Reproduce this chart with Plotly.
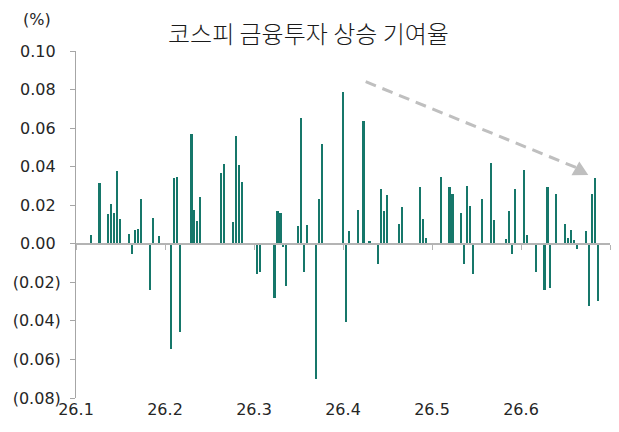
import pandas as pd
import plotly.graph_objects as go

# ---- data ----
dates = [
    "2026-01-06", "2026-01-09", "2026-01-12", "2026-01-13", "2026-01-14", "2026-01-15", "2026-01-16",
    "2026-01-19", "2026-01-20", "2026-01-21", "2026-01-22", "2026-01-23", "2026-01-26", "2026-01-27",
    "2026-01-29",
    "2026-02-02", "2026-02-03", "2026-02-04", "2026-02-05", "2026-02-09", "2026-02-10", "2026-02-11",
    "2026-02-12", "2026-02-19", "2026-02-20", "2026-02-23", "2026-02-24", "2026-02-25", "2026-02-26",
    "2026-03-03", "2026-03-04", "2026-03-09", "2026-03-10", "2026-03-11", "2026-03-12", "2026-03-13",
    "2026-03-17", "2026-03-18", "2026-03-19", "2026-03-20", "2026-03-23", "2026-03-24", "2026-03-25",
    "2026-04-01", "2026-04-02", "2026-04-03", "2026-04-06", "2026-04-08", "2026-04-10", "2026-04-13",
    "2026-04-14", "2026-04-15", "2026-04-16", "2026-04-20", "2026-04-21", "2026-04-23", "2026-04-27",
    "2026-04-28", "2026-04-29",
    "2026-05-04", "2026-05-07", "2026-05-08", "2026-05-11", "2026-05-12", "2026-05-13", "2026-05-14",
    "2026-05-15", "2026-05-18", "2026-05-21", "2026-05-22", "2026-05-26", "2026-05-27", "2026-05-28",
    "2026-05-29",
    "2026-06-01", "2026-06-02", "2026-06-05", "2026-06-08", "2026-06-09", "2026-06-10", "2026-06-12",
    "2026-06-15", "2026-06-16", "2026-06-17", "2026-06-18", "2026-06-19", "2026-06-22", "2026-06-23",
    "2026-06-24", "2026-06-25", "2026-06-26",
]
values = [
    0.0045, 0.0314, 0.0154, 0.0206, 0.0159, 0.0378, 0.0131,
    0.0052, -0.0054, 0.0074, 0.0079, 0.0230, -0.0240, 0.0136,
    0.0038,
    -0.0547, 0.0342, 0.0347, -0.0456, 0.0570, 0.0174, 0.0119,
    0.0244, 0.0366, 0.0415, 0.0114, 0.0558, 0.0409, 0.0323,
    -0.0157, -0.0145, -0.0280, 0.0169, 0.0162, -0.0017, -0.0218,
    0.0093, 0.0655, -0.0145, 0.0098, -0.0701, 0.0230, 0.0516,
    0.0786, -0.0404, 0.0064, 0.0173, 0.0639, 0.0017, -0.0105,
    0.0283, 0.0168, 0.0252, 0.0105, 0.0192, 0.0004, 0.0294,
    0.0128, 0.0029,
    0.0347, 0.0295, 0.0256, 0.0159, -0.0104, 0.0302, 0.0197,
    -0.0159, 0.0233, 0.0421, 0.0124, 0.0024, 0.0169, -0.0055,
    0.0283,
    0.0385, 0.0047, -0.0145, -0.0242, 0.0292, -0.0231, 0.0256,
    0.0104, 0.0029, 0.0074, 0.0021, -0.0028, 0.0066, -0.0321,
    0.0259, 0.0339, -0.0299,
]
x_tick_labels = ["26.1", "26.2", "26.3", "26.4", "26.5", "26.6", ""]
y_tick_values = [0.10, 0.08, 0.06, 0.04, 0.02, 0.00, -0.02, -0.04, -0.06, -0.08]
y_tick_labels = ["0.10\u00a0", "0.08\u00a0", "0.06\u00a0", "0.04\u00a0", "0.02\u00a0", "0.00\u00a0",
                 "(0.02)", "(0.04)", "(0.06)", "(0.08)"]
title_text = "코스피 금융투자 상승 기여율"
unit_text = "(%)"

x_start, x_end = "2026-01-01", "2026-06-30"
x_tick_values = [d.strftime("%Y-%m-%d") for d in pd.date_range(x_start, periods=7, freq="30D")]

KFONT = "Noto Sans CJK KR"
NFONT = "DejaVu Sans"
BAR = "#16776a"
AXIS = "#a6a6a6"
TXT = "#262626"

fig = go.Figure()
fig.add_trace(go.Bar(
    x=dates, y=values, marker=dict(color=BAR, line=dict(width=0)),
    width=0.55 * 86400000, showlegend=False, hoverinfo="x+y",
))
# invisible trace to carry the zero-line axis
fig.add_trace(go.Scatter(
    x=[x_start], y=[0], xaxis="x2", mode="markers", marker=dict(opacity=0),
    showlegend=False, hoverinfo="skip",
))

ymin, ymax = -0.08, 0.10
zero_pos = (0 - ymin) / (ymax - ymin)

fig.update_layout(
    width=619, height=432,
    margin=dict(l=76, r=9, t=51, b=34),
    paper_bgcolor="white", plot_bgcolor="white",
    font=dict(family=NFONT, color=TXT, size=16),
    bargap=0,
    xaxis=dict(
        type="date", range=[x_start, x_end],
        tickmode="array", tickvals=x_tick_values, ticktext=x_tick_labels,
        showline=False, ticks="", showgrid=False, zeroline=False,
        tickfont=dict(family=NFONT, size=16, color=TXT),
    ),
    xaxis2=dict(
        type="date", range=[x_start, x_end], overlaying="x", anchor="free",
        position=zero_pos, side="bottom",
        tickmode="array", tickvals=x_tick_values, showticklabels=False,
        showline=True, linecolor="#b4b4b4", linewidth=1.5,
        ticks="outside", ticklen=5, tickcolor="#b4b4b4", tickwidth=1,
        showgrid=False, zeroline=False,
    ),
    yaxis=dict(
        range=[ymin, ymax], tickmode="array",
        tickvals=y_tick_values, ticktext=y_tick_labels,
        showline=True, linecolor=AXIS, linewidth=1,
        ticks="outside", ticklen=5, tickcolor=AXIS,
        showgrid=False, zeroline=False,
        ticklabelstandoff=6,
        tickfont=dict(family=NFONT, size=16, color=TXT),
    ),
)

# dashed trend arrow (paper coordinates)
def px_to_paper(px, py):
    return (px - 76) / 534, (398 - py) / 347

x0, y0 = px_to_paper(365.7, 81.7)
x1, y1 = px_to_paper(576.0, 167.5)
fig.add_shape(type="line", xref="paper", yref="paper", x0=x0, y0=y0, x1=x1, y1=y1,
              line=dict(color="#bfbfbf", width=3, dash="11px,7px"))
t = px_to_paper(588.3, 175.0)
c1 = px_to_paper(571.5, 175.3)
c2 = px_to_paper(579.3, 161.5)
fig.add_shape(type="path", xref="paper", yref="paper",
              path=f"M {t[0]},{t[1]} L {c1[0]},{c1[1]} L {c2[0]},{c2[1]} Z",
              fillcolor="#bfbfbf", line=dict(width=0))

tx, ty = px_to_paper(308, 33)
fig.add_annotation(text=title_text, xref="paper", yref="paper", x=tx, y=ty,
                   xanchor="center", yanchor="middle", showarrow=False,
                   font=dict(family=KFONT, size=24, color="#1a1a1a", weight=300))
ux, uy = px_to_paper(37, 20)
fig.add_annotation(text=unit_text, xref="paper", yref="paper", x=ux, y=uy,
                   xanchor="center", yanchor="middle", showarrow=False,
                   font=dict(family=NFONT, size=16, color=TXT))

fig.write_html("out.html", config={"displayModeBar": False},
               post_script="document.body.style.margin='0';")
